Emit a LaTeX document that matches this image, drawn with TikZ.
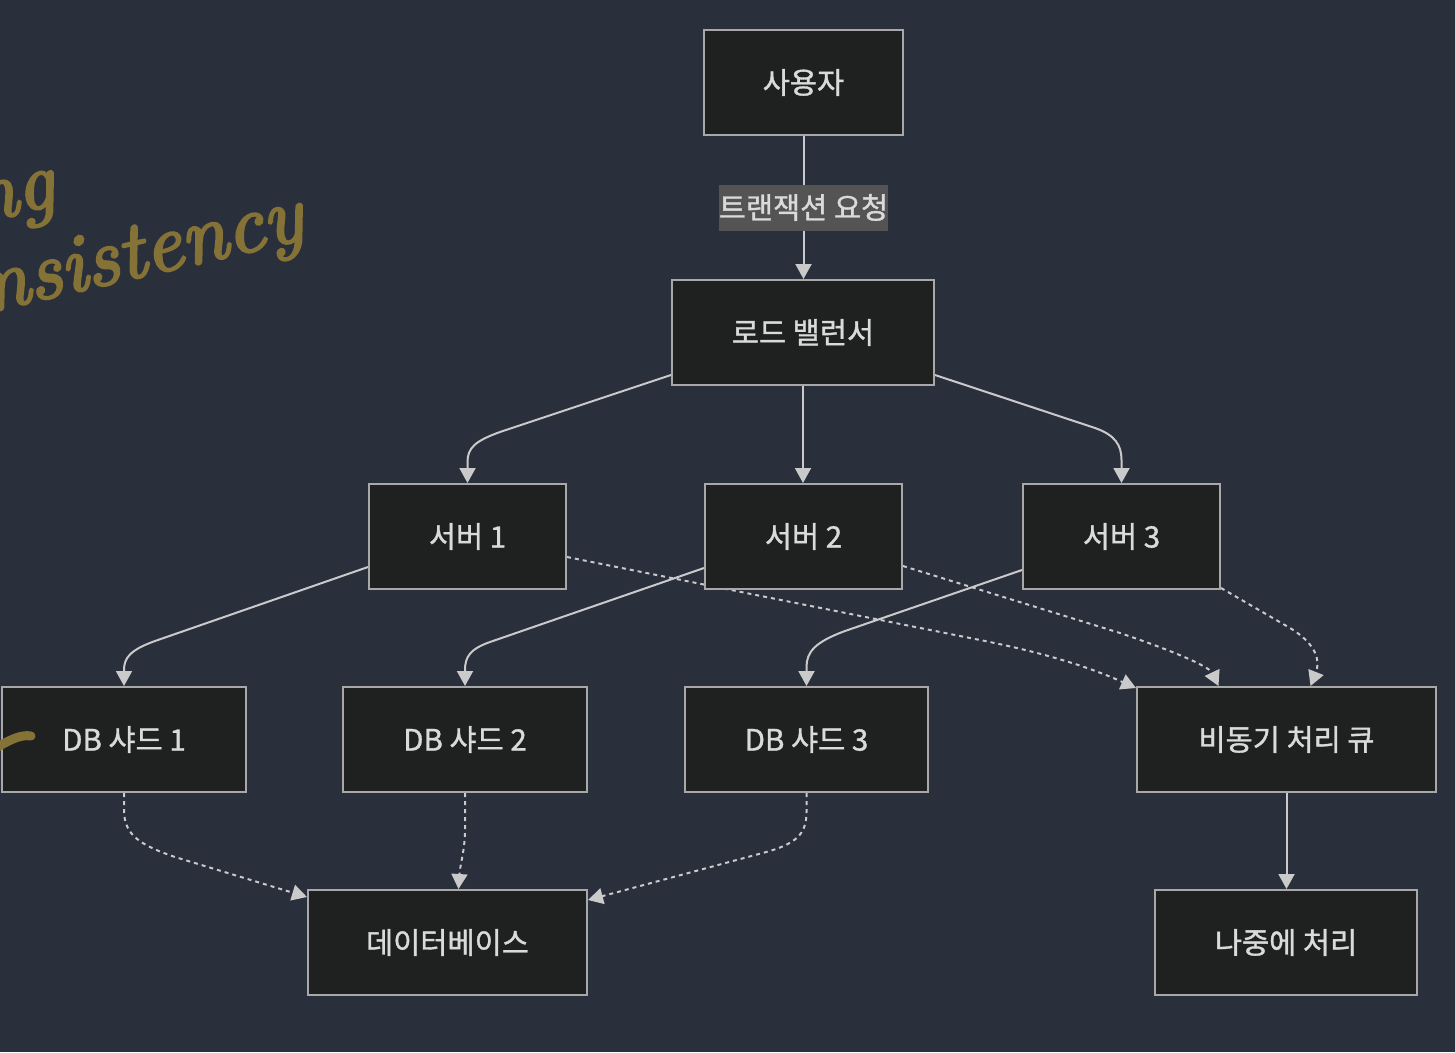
\documentclass[tikz,border=0pt]{standalone}
\usepackage{fontspec}
\newfontfamily\kr{Noto Sans CJK KR}[FakeBold=1.2]
\newfontfamily\handfont{lmroman10-italic.otf}[FakeBold=3]
\usetikzlibrary{arrows.meta}
\definecolor{bg}{RGB}{42,47,60}
\definecolor{boxfill}{RGB}{31,32,32}
\definecolor{boxline}{RGB}{168,168,168}
\definecolor{txt}{RGB}{218,218,218}
\definecolor{edgec}{RGB}{202,202,202}
\definecolor{lblbg}{RGB}{84,84,84}
\definecolor{gold}{RGB}{132,114,54}
\pgfdeclarelayer{bglayer}
\pgfdeclarelayer{edges}
\pgfsetlayers{bglayer,edges,main}
\begin{document}
\begin{tikzpicture}[x=1pt,y=-1pt,
  box/.style={draw=boxline, fill=boxfill, line width=2pt, minimum height=105pt,
    inner sep=0pt, text=txt, font=\kr\fontsize{29.5}{35}\selectfont},
  conn/.style={draw=edgec, line width=2pt, -{Triangle[length=15pt,width=16pt]}},
  dotc/.style={conn, dash pattern=on 4pt off 4pt},
  lbl/.style={fill=lblbg, text=txt, font=\kr\fontsize{29.5}{35}\selectfont,
    inner xsep=0pt, inner ysep=0pt, minimum height=46pt},
  hand/.style={text=gold, font=\handfont\fontsize{82}{82}\selectfont, inner sep=0pt}]
\useasboundingbox (0,0) rectangle (1455,1052);
\begin{pgfonlayer}{bglayer}
\fill[bg] (0,0) rectangle (1455,1052);
\end{pgfonlayer}
\clip (0,0) rectangle (1455,1052);

% nodes
\node[box, minimum width=199pt] (user) at (803.5,82.5) {사용자};
\node[box, minimum width=262pt] (lb) at (803,332.5) {로드 밸런서};
\node[box, minimum width=197pt] (s1) at (467.5,536.5) {서버 1};
\node[box, minimum width=197pt] (s2) at (803.5,536.5) {서버 2};
\node[box, minimum width=197pt] (s3) at (1121.5,536.5) {서버 3};
\node[box, minimum width=244pt] (db1) at (124,739.5) {DB 샤드 1};
\node[box, minimum width=244pt] (db2) at (465,739.5) {DB 샤드 2};
\node[box, minimum width=243pt] (db3) at (806.5,739.5) {DB 샤드 3};
\node[box, minimum width=299pt] (q) at (1286.5,739.5) {비동기 처리 큐};
\node[box, minimum width=279pt] (db) at (447.5,942.5) {데이터베이스};
\node[box, minimum width=262pt] (later) at (1286,942.5) {나중에 처리};

% connectors
\begin{pgfonlayer}{edges}
\draw[conn] (user.south) -- node[lbl] (lab) {트랜잭션 요청} (user.south |- lb.north);
\draw[conn] ([yshift=11pt]lb.south west) -- (500,432) .. controls (475,441) and (467.5,448) .. (467.5,462) -- (s1.north);
\draw[conn] (lb.south) -- (lb.south |- s2.north);
\draw[conn] ([yshift=11pt]lb.south east) -- (1095,428) .. controls (1115,435) and (1121.5,445) .. (1121.5,460) -- (s3.north);
\draw[conn] ([yshift=23pt]s1.south west) -- (155,641) .. controls (130,650) and (124,658) .. (124,670) -- (db1.north);
\draw[conn] ([yshift=22pt]s2.south west) -- (490,642) .. controls (470,649) and (465,657) .. (465,670) -- (db2.north);
\draw[conn] ([yshift=20pt]s3.south west) -- (845,631) .. controls (815,642) and (806.5,652) .. (806.5,667) -- (db3.north);
\draw[dotc] ([yshift=33pt]s1.south east) -- (980,640) .. controls (1060,656) and (1100,672) .. ([yshift=-2pt]q.north west);
\draw[dotc] ([yshift=24pt]s2.south east) -- (1120,633) .. controls (1185,655) and (1210,668) .. ([xshift=-68pt]q.north);
\draw[dotc] ([yshift=2pt]s3.south east) -- (1290,628) .. controls (1318,645) and (1320,662) .. ([xshift=24pt]q.north);
\draw[dotc] (db1.south) -- (124,810) .. controls (124,835) and (140,845) .. (175,857) -- ([yshift=-8pt]db.north west);
\draw[dotc] (db2.south) -- (465,830) .. controls (465,850) and (460,865) .. ([xshift=11pt]db.north);
\draw[dotc] (db3.south) -- (806.5,812) .. controls (806.5,835) and (795,843) .. (770,851) -- ([yshift=-11pt]db.north east);
\draw[conn] (q.south) -- (q.south |- later.north);
\end{pgfonlayer}

% handwritten overlay
\node[hand, rotate=13, anchor=base west] (hw1) at (-12,312) {nsistency};
\node[hand, rotate=13, anchor=base east] (hw2) at (58,205) {ng};
\draw[gold, line width=9pt, line cap=round] (-6,749) .. controls (8,741) and (20,734) .. (31,736);
\end{tikzpicture}
\end{document}
